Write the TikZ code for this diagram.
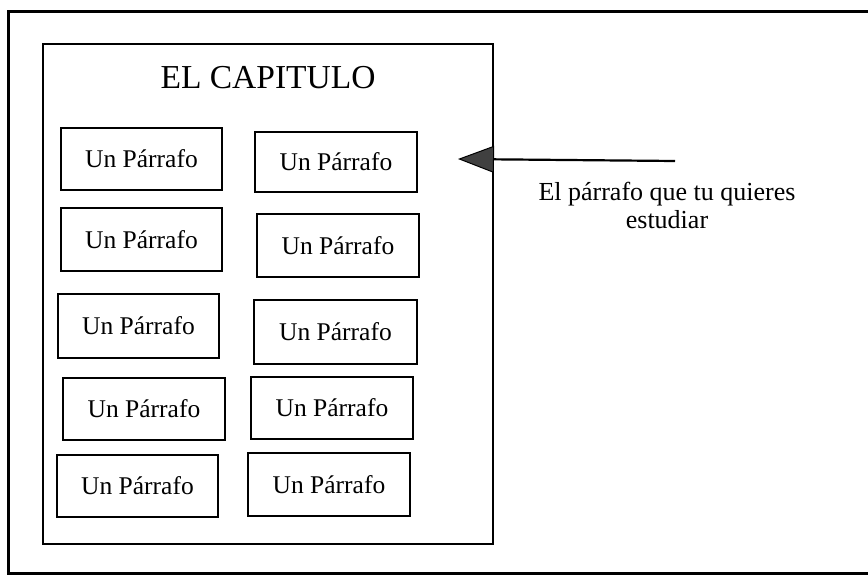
\documentclass[tikz,border=0pt]{standalone}
\usepackage{fontspec}
\setmainfont{Liberation Serif}
\usetikzlibrary{arrows.meta}
\tikzset{
  frame/.style={line width=3pt, line join=miter},
  chapter/.style={draw, line width=1.8pt},
  para/.style={draw, line width=2pt, minimum width=161pt, minimum height=62pt, inner sep=0pt,
    font=\fontsize{25.5}{29}\selectfont},
  pointer/.style={line width=2.2pt, -{Triangle[length=36pt,width=27pt,fill=black!75,line width=1pt]}},
}
\begin{document}
\begin{tikzpicture}[x=1pt,y=-1pt]
\useasboundingbox (0,0) rectangle (868,575);
\draw[frame] (868,12) -- (8,12) -- (8,573) -- (868,573);
\node[chapter, minimum width=450pt, minimum height=500pt, inner sep=0pt] (cap) at (268,294) {};
\node[font=\fontsize{33.5}{39}\selectfont] (title) at (268,78) {EL CAPITULO};
\node[para, minimum height=62pt] (p1l) at (141.5,159) {Un Párrafo};
\node[para, minimum width=162pt, minimum height=60pt] (p1r) at (336,162) {Un Párrafo};
\node[para, minimum height=63pt] (p2l) at (141.5,239.5) {Un Párrafo};
\node[para, minimum width=162pt, minimum height=63pt] (p2r) at (338,245.5) {Un Párrafo};
\node[para, minimum height=64pt] (p3l) at (138.5,326) {Un Párrafo};
\node[para, minimum width=163pt, minimum height=64pt] (p3r) at (335.5,332) {Un Párrafo};
\node[para, minimum width=162pt] (p4l) at (144,409) {Un Párrafo};
\node[para, minimum width=162pt] (p4r) at (332,408) {Un Párrafo};
\node[para] (p5l) at (137.5,486) {Un Párrafo};
\node[para, minimum width=162pt, minimum height=63pt] (p5r) at (329,484.5) {Un Párrafo};
\coordinate (astart) at (675,161);
\coordinate (atip) at (458,159);
\draw[pointer] (astart) -- (atip);
\node[align=center, font=\fontsize{26}{28}\selectfont] (cap2) at (667,205) {El párrafo que tu quieres\\estudiar};
\end{tikzpicture}
\end{document}
